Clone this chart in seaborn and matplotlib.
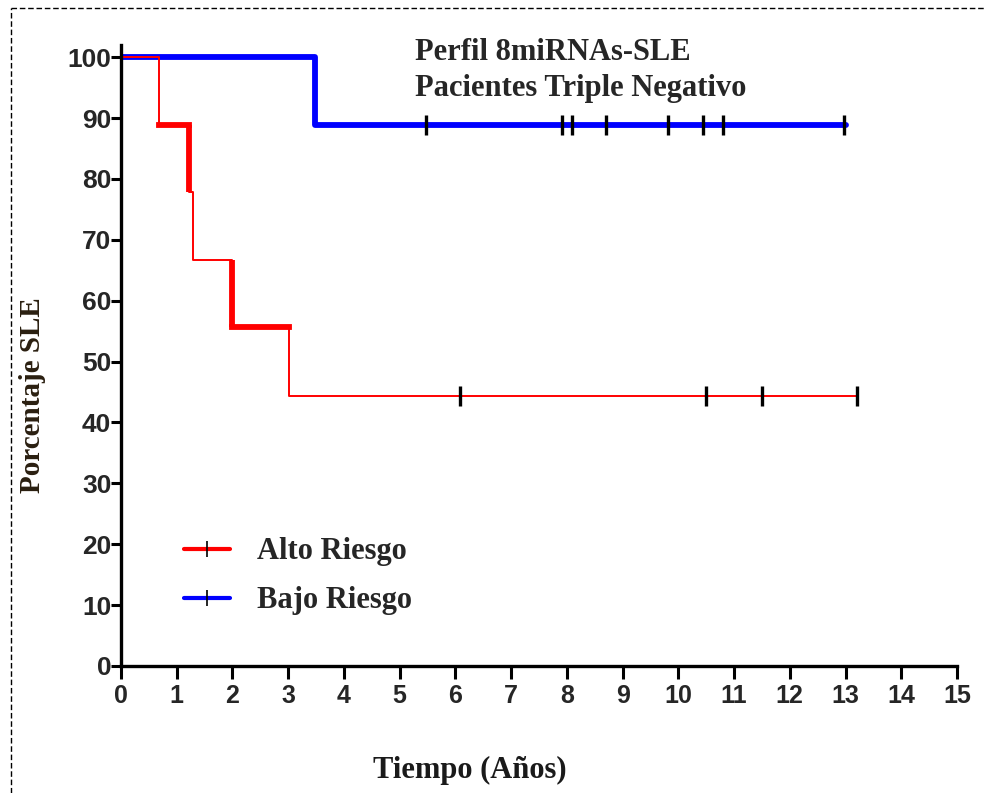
import numpy as np
import pandas as pd
import seaborn as sns
import matplotlib.pyplot as plt
from matplotlib.lines import Line2D

# Kaplan-Meier steps (time in years, % SLE)
alto_t = [0, 0.68, 1.22, 1.29, 2.0, 3.02, 13.2]
alto_s = [100, 88.9, 77.8, 66.7, 55.6, 44.4, 44.4]
alto_thick_h = [False, True, False, False, True, False]   # heavier horizontal pieces
alto_thick_v = [False, True, False, True, False]          # heavier drops (at t[1:])
alto_cens = [6.09, 10.5, 11.5, 13.2]

bajo_t = [0, 3.48, 13.0]
bajo_s = [100, 88.9, 88.9]
bajo_cens = [5.48, 7.92, 8.1, 8.71, 9.82, 10.45, 10.81, 12.98]

x_ticks = list(range(0, 16))
y_ticks = list(range(0, 101, 10))

sns.set_style("white")
serif = ["Liberation Serif", "DejaVu Serif"]
sans = ["Liberation Sans", "DejaVu Sans"]

fig = plt.figure(figsize=(9.87, 7.93), dpi=100)
ax = fig.add_axes([0.1226, 0.1602, 0.8470, 0.7831])

RED = "#ff0000"
BLUE = "#0000ff"

df_a = pd.DataFrame({"t": alto_t, "s": alto_s})
df_b = pd.DataFrame({"t": bajo_t, "s": bajo_s})

sns.lineplot(data=df_b, x="t", y="s", drawstyle="steps-post", color=BLUE, lw=4.2, ax=ax,
             estimator=None, sort=False)
sns.lineplot(data=df_a, x="t", y="s", drawstyle="steps-post", color=RED, lw=1.4, ax=ax,
             estimator=None, sort=False)
for i, thick in enumerate(alto_thick_h):
    if thick:
        ax.plot([alto_t[i], alto_t[i + 1]], [alto_s[i], alto_s[i]], color=RED, lw=4.2,
                solid_capstyle="projecting")
for i, thick in enumerate(alto_thick_v):
    if thick:
        ax.plot([alto_t[i + 1], alto_t[i + 1]], [alto_s[i], alto_s[i + 1]], color=RED, lw=4.2,
                solid_capstyle="butt")

# censor marks
ax.plot(bajo_cens, [bajo_s[-1]] * len(bajo_cens), ls="none", marker="|", ms=14, mew=2.4, color="black")
ax.plot(alto_cens, [alto_s[-1]] * len(alto_cens), ls="none", marker="|", ms=14, mew=2.4, color="black")

ax.set_xlim(0, 15)
ax.set_ylim(0, 102)
ax.set_xticks(x_ticks)
ax.set_yticks(y_ticks)
ax.set_xticklabels([str(v) for v in x_ticks], fontfamily=sans, fontweight="bold", fontsize=18)
ax.set_yticklabels([str(v) for v in y_ticks], fontfamily=sans, fontweight="bold", fontsize=19)
ax.tick_params(axis="x", direction="out", length=9, width=2.2, pad=4, color="black", bottom=True)
ax.tick_params(axis="y", direction="out", length=7, width=2.2, pad=0, color="black", left=True)
for side in ["top", "right"]:
    ax.spines[side].set_visible(False)
for side in ["left", "bottom"]:
    ax.spines[side].set_linewidth(2.4)
    ax.spines[side].set_color("black")

ax.set_xlabel("Tiempo (Años)", fontfamily=serif, fontweight="bold", fontsize=22, color="#1a1a1a")
ax.xaxis.set_label_coords(0.417, -0.145)
ax.set_ylabel("Porcentaje SLE", fontfamily=serif, fontweight="bold", fontsize=21, color="#2a1f10")
ax.yaxis.set_label_coords(-0.09, 0.436)

ax.text(0.352, 1.011, "Perfil 8miRNAs-SLE\nPacientes Triple Negativo", transform=ax.transAxes,
        ha="left", va="top", fontfamily=serif, fontweight="bold", fontsize=22, linespacing=1.3)

handles = [Line2D([], [], color=RED, lw=3, marker="|", ms=12, mec="black", mew=1.2),
           Line2D([], [], color=BLUE, lw=3, marker="|", ms=12, mec="black", mew=1.2)]
ax.legend(handles, ["Alto Riesgo", "Bajo Riesgo"], loc="upper left", bbox_to_anchor=(0.075, 0.207),
          frameon=False, prop={"family": serif, "weight": "bold", "size": 22},
          handlelength=1.5, handletextpad=0.9, labelspacing=0.65, borderpad=0, borderaxespad=0)

# dashed frame (top and left) like the source image
fig.add_artist(Line2D([0.011, 1.0], [0.99, 0.99], transform=fig.transFigure, color="black",
                      lw=1.0, ls=(0, (4, 2))))
fig.add_artist(Line2D([0.011, 0.011], [0.0, 0.99], transform=fig.transFigure, color="black",
                      lw=1.0, ls=(0, (4, 2))))

fig.savefig("out.png", dpi=100)
